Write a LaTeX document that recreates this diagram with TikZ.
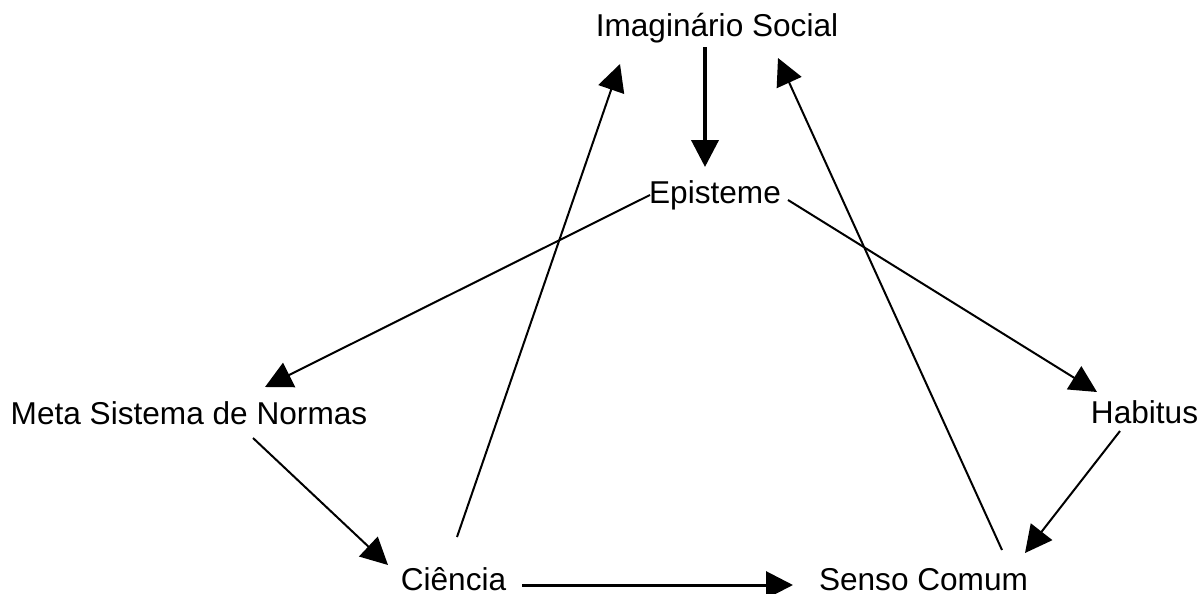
\documentclass[tikz,border=0pt]{standalone}
\usepackage{fontspec}
\setmainfont{Liberation Sans}
\usetikzlibrary{arrows.meta,calc}
\begin{document}
\begin{tikzpicture}[x=0.5pt,y=-0.5pt,
  lbl/.style={anchor=base,inner sep=0pt,font=\fontsize{15.8pt}{19pt}\selectfont},
  arr/.style={line width=1pt,-{Triangle[length=13.5pt,width=13.5pt]}},
  thickarr/.style={arr,line width=2pt},
  midarr/.style={arr,line width=1.5pt}]
\useasboundingbox[fill=white] (0,0) rectangle (1200,594);
\node[lbl] (imag) at (717,36) {Imaginário Social};
\node[lbl] (epis) at (715,203) {Episteme};
\node[lbl] (meta) at (189,424) {Meta Sistema de Normas};
\node[lbl] (hab) at (1144.5,423) {Habitus};
\node[lbl] (cien) at (453.5,590) {Ciência};
\node[lbl] (senso) at (923.5,590) {Senso Comum};
\draw[thickarr] ($(imag.base)+(-12,11)$) -- ($(epis.base)+(-10,-36)$);
\draw[arr] ($(epis.base)+(-65,-8)$) -- ($(meta.base)+(76,-37)$);
\draw[arr] ($(epis.base)+(73,-3)$) -- ($(hab.base)+(-47.5,-31)$);
\draw[arr] ($(meta.base)+(64,14)$) -- ($(cien.base)+(-65.5,-25)$);
\draw[arr] ($(hab.base)+(-24.5,8)$) -- ($(senso.base)+(101.5,-37)$);
\draw[arr] ($(senso.base)+(78.5,-40)$) -- ($(imag.base)+(61,22)$);
\draw[arr] ($(cien.base)+(3.5,-53)$) -- ($(imag.base)+(-97,28)$);
\draw[midarr] ($(cien.base)+(68.5,-5)$) -- ($(senso.base)+(-130.5,-5)$);
\end{tikzpicture}
\end{document}
